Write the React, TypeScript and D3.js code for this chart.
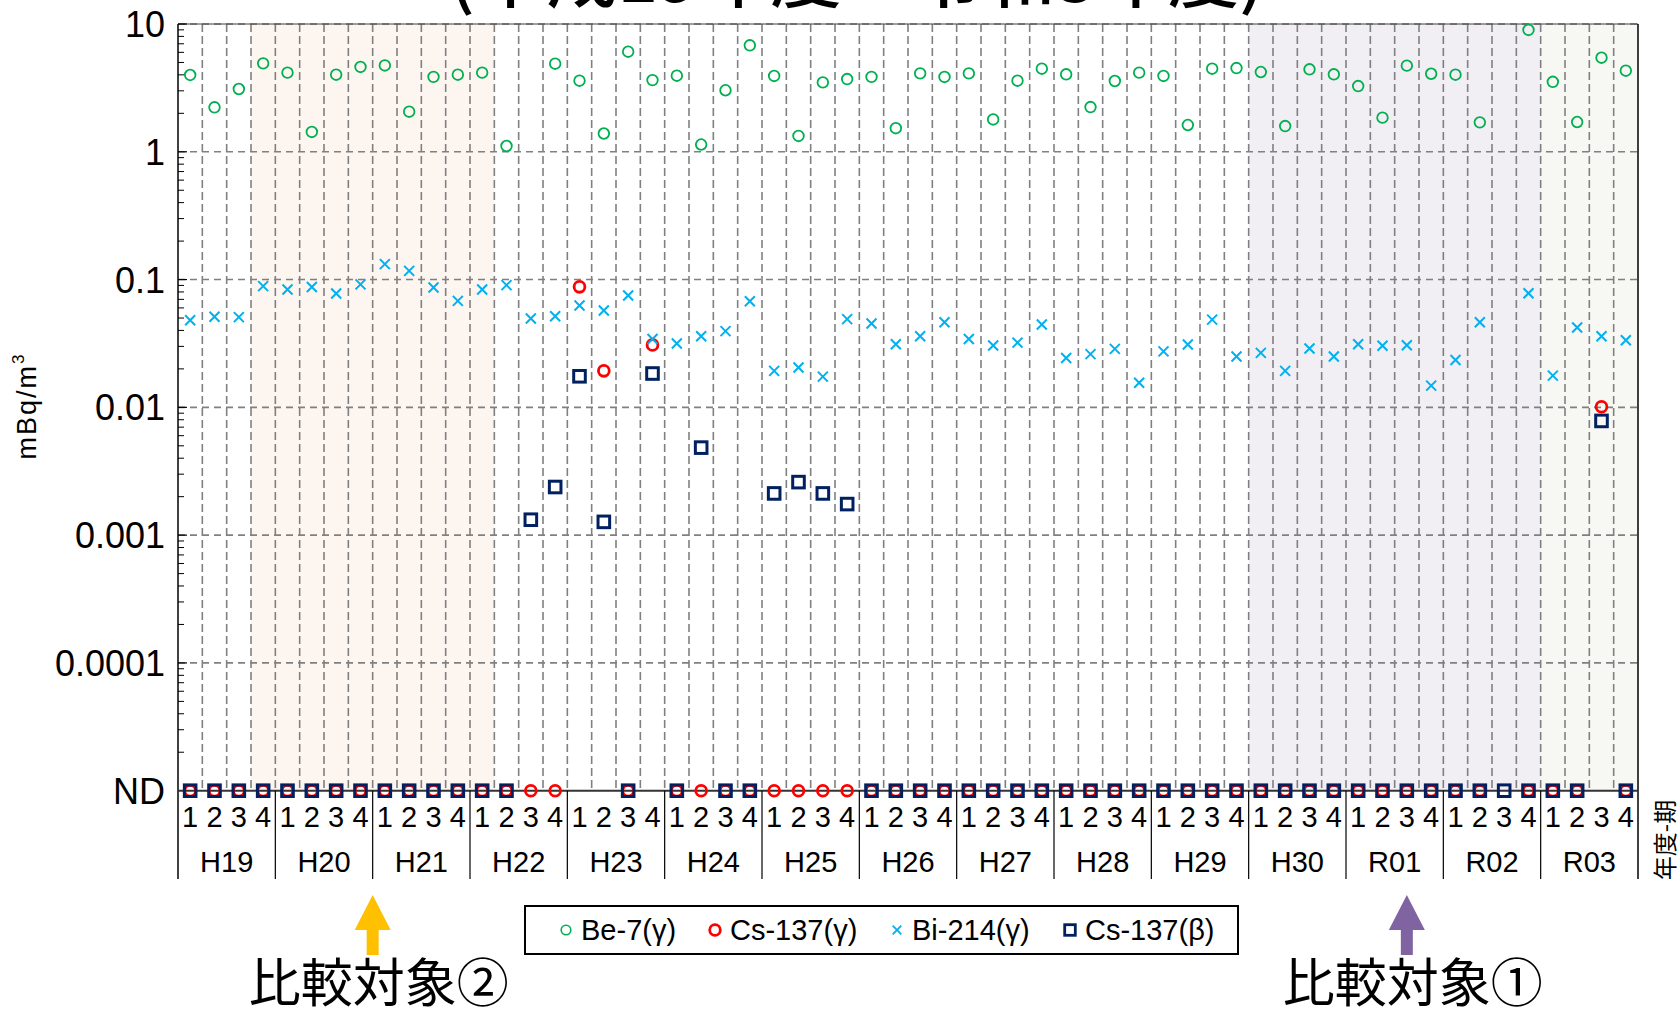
import React from "react";
import * as d3 from "d3";

// ---------- data ----------
const years = ["H19", "H20", "H21", "H22", "H23", "H24", "H25", "H26", "H27", "H28", "H29", "H30", "R01", "R02", "R03"];
const quarters = ["1", "2", "3", "4"];

type V = number | "ND" | null;

// Be-7(γ) mBq/m3 (null = no plotted value)
const be7: V[] = [
  3.99, 2.23, 3.10, 4.92,
  4.16, 1.43, 4.01, 4.61,
  4.74, 2.06, 3.86, 4.01,
  4.16, 1.11, null, 4.89,
  3.60, 1.39, 6.07, 3.64,
  3.94, 1.14, 3.03, 6.81,
  3.92, 1.33, 3.49, 3.71,
  3.86, 1.53, 4.11, 3.85,
  4.11, 1.79, 3.60, 4.47,
  4.04, 2.24, 3.58, 4.16,
  3.92, 1.62, 4.47, 4.52,
  4.21, 1.59, 4.42, 4.04,
  3.27, 1.85, 4.72, 4.08,
  4.01, 1.70, null, 8.98,
  3.53, 1.71, 5.45, 4.31,
];

// Cs-137(γ)
const cs137g: V[] = [
  "ND", "ND", "ND", "ND",
  "ND", "ND", "ND", "ND",
  "ND", "ND", "ND", "ND",
  "ND", "ND", "ND", "ND",
  0.0877, 0.0193, "ND", 0.0308,
  "ND", "ND", "ND", "ND",
  "ND", "ND", "ND", "ND",
  "ND", "ND", "ND", "ND",
  "ND", "ND", "ND", "ND",
  "ND", "ND", "ND", "ND",
  "ND", "ND", "ND", "ND",
  "ND", "ND", "ND", "ND",
  "ND", "ND", "ND", "ND",
  "ND", "ND", null, "ND",
  "ND", "ND", 0.0101, "ND",
];

// Bi-214(γ)
const bi214: V[] = [
  0.0481, 0.0511, 0.0508, 0.0888,
  0.0836, 0.0875, 0.0778, 0.0917,
  0.132, 0.117, 0.0867, 0.0681,
  0.0836, 0.0904, 0.0496, 0.0516,
  0.0627, 0.0573, 0.075, 0.0343,
  0.0316, 0.036, 0.0395, 0.0677,
  0.0193, 0.0205, 0.0174, 0.049,
  0.0453, 0.0312, 0.036, 0.0463,
  0.0343, 0.0305, 0.0321, 0.0445,
  0.0243, 0.0261, 0.0287, 0.0156,
  0.0274, 0.031, 0.0486, 0.025,
  0.0267, 0.0193, 0.0289, 0.025,
  0.0312, 0.0303, 0.0306, 0.0148,
  0.0235, 0.0463, null, 0.0781,
  0.0177, 0.0422, 0.036, 0.0335,
];

// Cs-137(β)
const cs137b: V[] = [
  "ND", "ND", "ND", "ND",
  "ND", "ND", "ND", "ND",
  "ND", "ND", "ND", "ND",
  "ND", "ND", 0.00132, 0.00238,
  0.0175, 0.00127, "ND", 0.0184,
  "ND", 0.00484, "ND", "ND",
  0.00212, 0.0026, 0.00212, 0.00175,
  "ND", "ND", "ND", "ND",
  "ND", "ND", "ND", "ND",
  "ND", "ND", "ND", "ND",
  "ND", "ND", "ND", "ND",
  "ND", "ND", "ND", "ND",
  "ND", "ND", "ND", "ND",
  "ND", "ND", "ND", "ND",
  "ND", "ND", 0.00783, "ND",
];

const yTickValues = [10, 1, 0.1, 0.01, 0.001, 0.0001];
const yTickLabels = ["10", "1", "0.1", "0.01", "0.001", "0.0001"];
const ndLabel = "ND";
const ND_VALUE = 1e-5;

const seriesNames = ["Be-7(γ)", "Cs-137(γ)", "Bi-214(γ)", "Cs-137(β)"];

// shaded periods: [first column key, last column key]
const shadePeriods: [string, string][] = [
  ["H19-4", "H22-1"],
  ["H30-1", "R02-4"],
  ["R03-1", "R03-4"],
];
const shadeColors = ["#FDF5F0", "#F1EEF4", "#F7F8F3"];

const titleText = "(平成19年度～令和3年度)";
const yTitle = "mBq/m";
const xTitle = "年度-期";
const compareLabels = ["比較対象②", "比較対象①"];
// arrow anchors: column key and offset within the band (0 = left edge, 0.5 = centre)
const compareAnchors: [string, number][] = [["H21-1", 0], ["R01-3", 0.5]];
const compareColors = ["#FFC000", "#8064A2"];

// ---------- layout ----------
const W = 1680, H = 1014;
const L = 178, R = 1638, T = 24, B = 790.7;
const SEP_BOTTOM = 879;

const keys = years.flatMap((y) => quarters.map((q) => `${y}-${q}`));
const x = d3.scaleBand<string>().domain(keys).range([L, R]).padding(0);
const bw = x.bandwidth();
const y = d3.scaleLog().domain([ND_VALUE, 10]).range([B, T]);
const cx = (k: string) => (x(k) as number) + bw / 2;
const toY = (v: V) => y(v === "ND" ? ND_VALUE : (v as number));

const minorTicks: number[] = [];
for (let e = -5; e < 1; e++) {
  for (let m = 2; m <= 9; m++) minorTicks.push(m * Math.pow(10, e));
}

const LATIN = "'Liberation Sans', Arial, Helvetica, sans-serif";
const CJK = "'Noto Sans CJK JP', 'Noto Sans', sans-serif";

const GREEN = "#00B050", RED = "#FF0000", CYAN = "#00B0F0", NAVY = "#002060";
const GRID = "#808080";

const Circle = ({ x0, y0, r, color, sw }: any) => (
  <circle cx={x0} cy={y0} r={r} fill="none" stroke={color} strokeWidth={sw} />
);
const Cross = ({ x0, y0, s, color, sw }: any) => (
  <path d={`M${x0 - s},${y0 - s}L${x0 + s},${y0 + s}M${x0 - s},${y0 + s}L${x0 + s},${y0 - s}`} stroke={color} strokeWidth={sw} fill="none" />
);
const Square = ({ x0, y0, s, color, sw }: any) => (
  <rect x={x0 - s} y={y0 - s} width={2 * s} height={2 * s} fill="none" stroke={color} strokeWidth={sw} />
);

const markers = [
  (x0: number, y0: number) => <Circle x0={x0} y0={y0} r={5.3} color={GREEN} sw={1.8} />,
  (x0: number, y0: number) => <Circle x0={x0} y0={y0} r={5.4} color={RED} sw={2.8} />,
  (x0: number, y0: number) => <Cross x0={x0} y0={y0} s={5} color={CYAN} sw={2} />,
  (x0: number, y0: number) => <Square x0={x0} y0={y0} s={5.8} color={NAVY} sw={3} />,
];

const allSeries = [be7, cs137g, bi214, cs137b];

function Arrow({ ax, color }: { ax: number; color: string }) {
  const tip = 895, bottom = 955, headH = 35, headW = 18, shaftW = 6;
  const d = `M${ax},${tip}L${ax + headW},${tip + headH}L${ax + shaftW},${tip + headH}L${ax + shaftW},${bottom}L${ax - shaftW},${bottom}L${ax - shaftW},${tip + headH}L${ax - headW},${tip + headH}Z`;
  return <path d={d} fill={color} />;
}

export default function App() {
  const legendItems = [
    { mx: 566, tx: 581 },
    { mx: 715, tx: 730 },
    { mx: 897, tx: 912 },
    { mx: 1070, tx: 1085 },
  ];
  return (
    <svg
      width={W}
      height={H}
      viewBox={`0 0 ${W} ${H}`}
      style={{ position: "absolute", left: 0, top: 0, background: "#fff" }}
    >
      <rect x={0} y={0} width={W} height={H} fill="#fff" />

      {/* title (mostly cut off above, as in the source) */}
      <text
        x={857}
        y={2}
        textAnchor="middle"
        fontFamily={CJK}
        fontSize={68}
        fontWeight={500}
        textLength={815}
        lengthAdjust="spacingAndGlyphs"
        fill="#000"
      >
        {titleText}
      </text>

      {/* shaded periods */}
      {shadePeriods.map(([a, b], i) => (
        <rect
          key={i}
          x={x(a) as number}
          y={T}
          width={(x(b) as number) + bw - (x(a) as number)}
          height={B - T}
          fill={shadeColors[i]}
        />
      ))}

      {/* vertical dashed grid */}
      {keys.slice(1).map((k) => (
        <line key={k} x1={x(k)} x2={x(k)} y1={T} y2={B} stroke={GRID} strokeWidth={1.6} strokeDasharray="8,4" />
      ))}
      {/* horizontal dashed grid */}
      {yTickValues.map((v) => (
        <line key={v} x1={L} x2={R} y1={y(v)} y2={y(v)} stroke={GRID} strokeWidth={1.6} strokeDasharray="7,5" />
      ))}

      {/* frame */}
      <line x1={L} x2={R} y1={T} y2={T} stroke="#404040" strokeWidth={1} />
      <line x1={R} x2={R} y1={T} y2={SEP_BOTTOM} stroke="#000" strokeWidth={1.5} />
      <line x1={L} x2={L} y1={T} y2={SEP_BOTTOM} stroke="#000" strokeWidth={1.5} />
      <line x1={L} x2={R} y1={B} y2={B} stroke="#333" strokeWidth={2} />

      {/* y ticks */}
      {minorTicks.map((v) => (
        <line key={"m" + v} x1={L} x2={L + 6} y1={y(v)} y2={y(v)} stroke="#000" strokeWidth={1} />
      ))}
      {yTickValues.map((v) => (
        <line key={"M" + v} x1={L} x2={L + 9} y1={y(v)} y2={y(v)} stroke="#000" strokeWidth={1.2} />
      ))}
      {yTickValues.map((v, i) => (
        <text key={"t" + v} x={165} y={y(v) + 13} textAnchor="end" fontFamily={LATIN} fontSize={36} fill="#000">
          {yTickLabels[i]}
        </text>
      ))}
      <text x={165} y={y(ND_VALUE) + 13} textAnchor="end" fontFamily={LATIN} fontSize={36} fill="#000">
        {ndLabel}
      </text>

      {/* y title */}
      <text
        transform={`translate(36,406) rotate(-90)`}
        textAnchor="middle"
        fontFamily={LATIN}
        fontSize={27}
        letterSpacing={2}
        fill="#000"
      >
        {yTitle}
        <tspan fontSize={17} dy={-12}>3</tspan>
      </text>

      {/* x categories */}
      {keys.map((k, i) => (
        <text key={"q" + k} x={cx(k)} y={827} textAnchor="middle" fontFamily={LATIN} fontSize={29} fill="#000">
          {quarters[i % 4]}
        </text>
      ))}
      {years.map((yr, i) => {
        const a = x(`${yr}-1`) as number;
        return (
          <g key={yr}>
            {i > 0 && <line x1={a} x2={a} y1={B} y2={SEP_BOTTOM} stroke="#000" strokeWidth={1.2} />}
            <text x={a + bw * 2} y={872} textAnchor="middle" fontFamily={LATIN} fontSize={29} fill="#000">
              {yr}
            </text>
          </g>
        );
      })}
      <text
        transform={`translate(1674,840) rotate(-90)`}
        textAnchor="middle"
        fontFamily={CJK}
        fontSize={24}
        fill="#000"
      >
        {xTitle}
      </text>

      {/* data */}
      {allSeries.map((s, si) => (
        <g key={"s" + si}>
          {s.map((v, i) =>
            v === null ? null : <g key={i}>{markers[si](cx(keys[i]), toY(v))}</g>
          )}
        </g>
      ))}

      {/* legend */}
      <rect x={525} y={906} width={713} height={48} fill="#fff" stroke="#000" strokeWidth={2} />
      {legendItems.map((it, i) => (
        <g key={"l" + i}>
          {i === 0 && <Circle x0={it.mx} y0={930} r={4.8} color={GREEN} sw={1.6} />}
          {i === 1 && <Circle x0={it.mx} y0={930} r={5.3} color={RED} sw={2.8} />}
          {i === 2 && <Cross x0={it.mx} y0={930} s={4.3} color={CYAN} sw={1.8} />}
          {i === 3 && <Square x0={it.mx} y0={930} s={5.3} color={NAVY} sw={2.8} />}
          <text x={it.tx} y={940} fontFamily={LATIN} fontSize={29} fill="#000">
            {seriesNames[i]}
          </text>
        </g>
      ))}

      {/* comparison arrows */}
      {compareAnchors.map(([k, off], i) => {
        const ax = (x(k) as number) + bw * off;
        return (
          <g key={"c" + i}>
            <Arrow ax={ax} color={compareColors[i]} />
            <text x={ax + 6} y={1002} textAnchor="middle" fontFamily={CJK} fontSize={52} fill="#000">
              {compareLabels[i]}
            </text>
          </g>
        );
      })}
    </svg>
  );
}
